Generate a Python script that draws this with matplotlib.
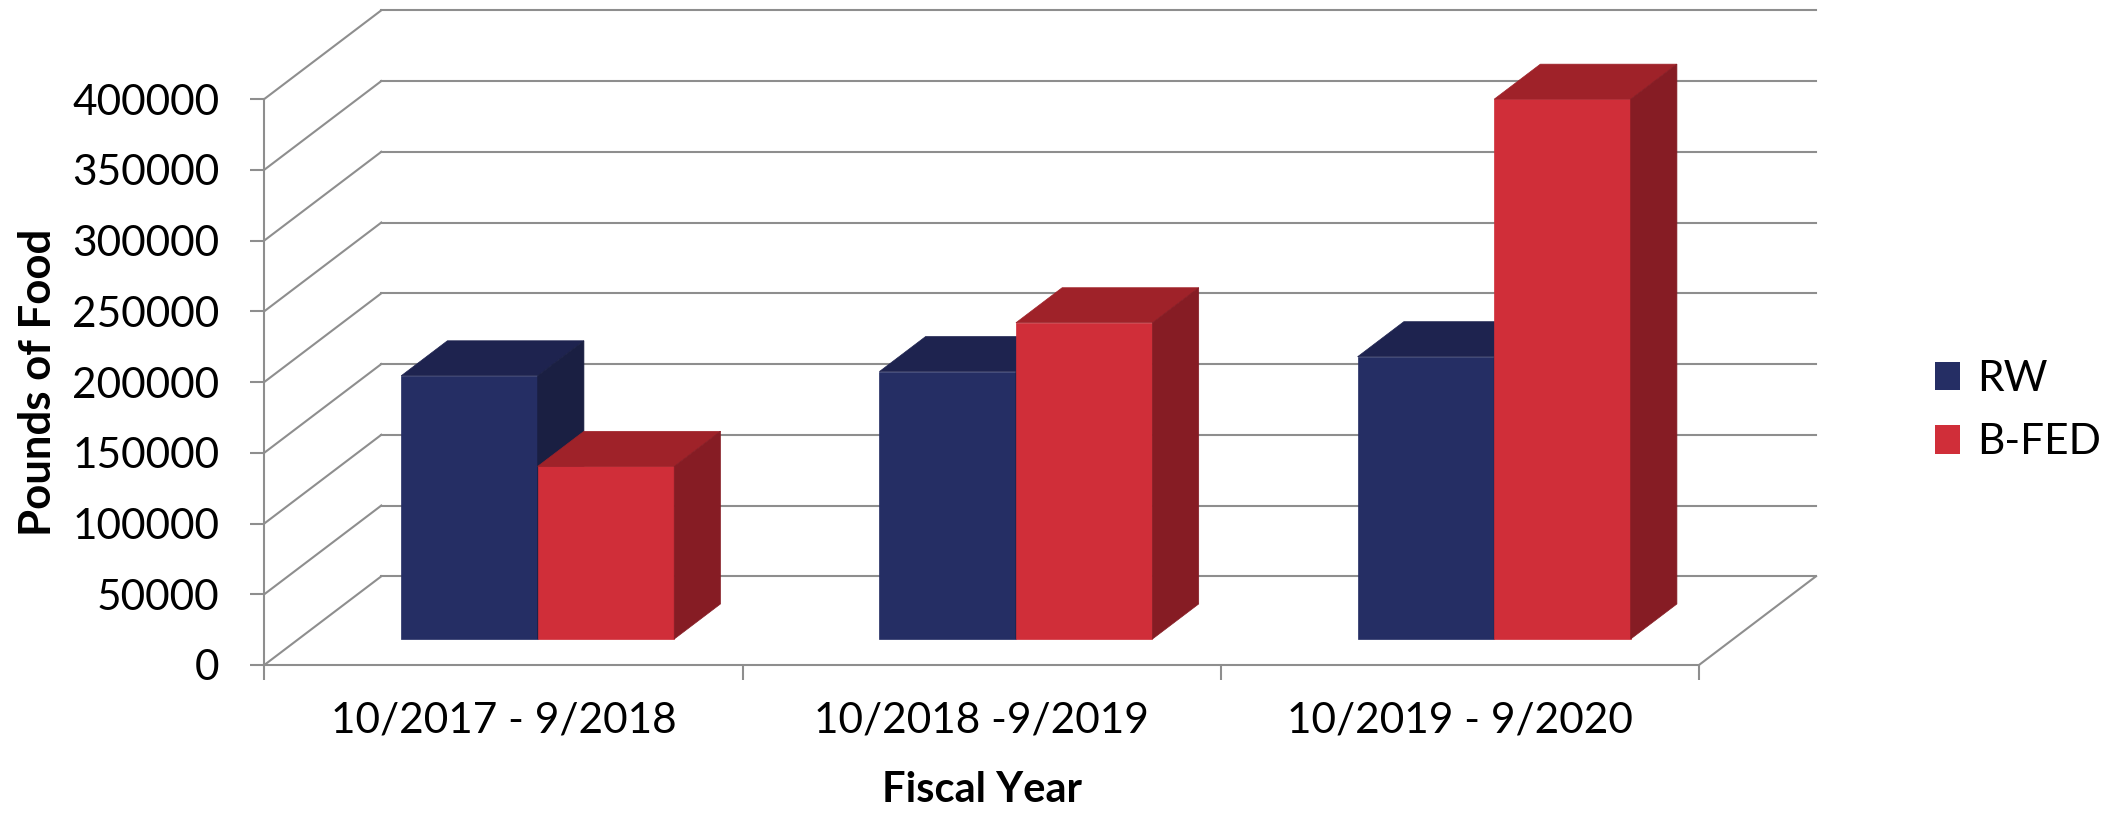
import matplotlib.pyplot as plt
from matplotlib.patches import Patch

plt.rcParams['font.family'] = ['Lato', 'DejaVu Sans']

# data
years = ['10/2017 - 9/2018', '10/2018 -9/2019', '10/2019 - 9/2020']
rw = [186000, 189000, 199500]
bfed = [122000, 223500, 381500]
series_names = ['RW', 'B-FED']
yticks = [0, 50000, 100000, 150000, 200000, 250000, 300000, 350000, 400000]

# colours: front, top, side
blue = ('#252E64', '#1E234F', '#1A1F42')
red = ('#D02E39', '#9F2229', '#861C24')
grid_c = '#8E8E8E'

# fake 3d: depth shift in data units (categories, pounds)
DX = 0.2447
DY = 62700
D_FRONT = 0.293
D_BACK = 0.688
W = 0.2855
YMAX = 400000


def proj(x, y, d):
    return (x + d * DX, y + d * DY)


fig = plt.figure(figsize=(21.13, 8.16), dpi=100)
ax = fig.add_axes([264.3 / 2113, 151 / 816, (1816 - 264.3) / 2113, (665 - 10.3) / 816])
ax.set_xlim(0, 3 + DX)
ax.set_ylim(0, YMAX + DY)
n = len(years)

# back wall + left wall gridlines
for v in yticks:
    bx0, by0 = proj(0, v, 1)
    bx1, by1 = proj(n, v, 1)
    ax.plot([bx0, bx1], [by0, by1], color=grid_c, lw=1.5, zorder=1, clip_on=False)
    ax.plot([0, bx0], [v, by0], color=grid_c, lw=1.5, zorder=1, clip_on=False)
# floor right edge
fx, fy = proj(n, 0, 1)
ax.plot([n, fx], [0, fy], color=grid_c, lw=1.5, zorder=1, clip_on=False)


def draw_box(x0, v, cols):
    x1 = x0 + W
    front = [proj(x0, 0, D_FRONT), proj(x1, 0, D_FRONT), proj(x1, v, D_FRONT), proj(x0, v, D_FRONT)]
    top = [proj(x0, v, D_FRONT), proj(x1, v, D_FRONT), proj(x1, v, D_BACK), proj(x0, v, D_BACK)]
    side = [proj(x1, 0, D_FRONT), proj(x1, v, D_FRONT), proj(x1, v, D_BACK), proj(x1, 0, D_BACK)]
    for poly, c in zip([front, top, side], cols):
        ax.add_patch(plt.Polygon(poly, closed=True, facecolor=c, edgecolor=c, lw=0.5, zorder=3))


for i in range(n):
    draw_box(i + 0.5 - W, rw[i], blue)
    draw_box(i + 0.5, bfed[i], red)

# axes
for s in ['top', 'right']:
    ax.spines[s].set_visible(False)
ax.spines['left'].set_bounds(0, YMAX)
ax.spines['bottom'].set_bounds(0, n)
for s in ['left', 'bottom']:
    ax.spines[s].set_color(grid_c)
    ax.spines[s].set_linewidth(1.5)
    ax.spines[s].set_zorder(2)

ax.set_yticks(yticks)
ax.set_yticklabels([str(t) for t in yticks])
ax.tick_params(axis='y', length=9.8, width=1.5, color=grid_c, pad=22.5, labelsize=30.5)
ax.set_xticks(range(n + 1))
ax.set_xticklabels([''] * (n + 1))
ax.set_xticks([i + 0.5 for i in range(n)], minor=True)
ax.set_xticklabels(years, minor=True)
ax.tick_params(axis='x', which='major', length=10.8, width=1.5, color=grid_c)
ax.tick_params(axis='x', which='minor', length=0, pad=26, labelsize=30.5)

ax.set_ylabel('Pounds of Food', fontsize=31.5, fontweight='bold')
ax.yaxis.set_label_coords(-0.133, YMAX / 2 / (YMAX + DY))
ax.set_xlabel('Fiscal Year', fontsize=30, fontweight='bold')
ax.xaxis.set_label_coords((981.5 - 264.3) / (1816 - 264.3), -0.162)

handles = [Patch(facecolor=blue[0]), Patch(facecolor=red[0])]
fig.legend(handles, series_names, loc='center left', bbox_to_anchor=(1935 / 2113, 1 - 410.75 / 816),
           frameon=False, fontsize=30.5, handlelength=0.6, handleheight=0.65,
           handletextpad=0.4, labelspacing=0.6, borderpad=0, borderaxespad=0)

fig.savefig('out.png', dpi=100)
